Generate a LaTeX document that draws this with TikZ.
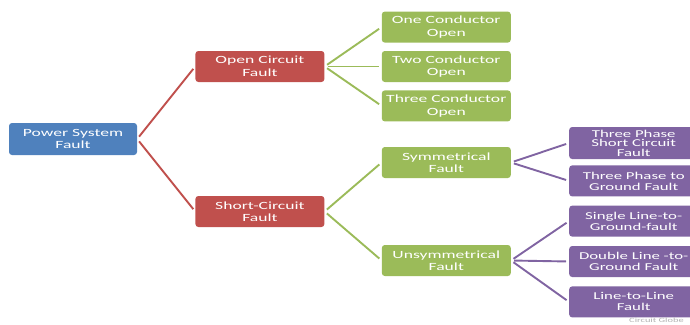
\documentclass[tikz,border=0pt]{standalone}
\usepackage{fontspec}
\setmainfont{Carlito}[FakeStretch=1.6]
\usetikzlibrary{positioning}
\definecolor{faultblue}{RGB}{79,129,189}
\definecolor{faultred}{RGB}{192,80,77}
\definecolor{faultgreen}{RGB}{155,187,89}
\definecolor{faultpurple}{RGB}{128,100,162}
\tikzset{
    %Define style for boxes
    boks/.style={
           rectangle,
           rounded corners=3pt,
           text=white,
           minimum width=129pt,
           minimum height=31pt,
           inner sep=0pt,
           align=center,
           font=\fontsize{11}{12.5}\selectfont},
    smaaboks/.style={
           boks,
           fill=faultpurple,
           font=\fontsize{10.5}{11}\selectfont},
    % Define line style
    lenke/.style={
           line width=1.9pt,
           shorten <=3pt,
           shorten >=3pt}
}
\begin{document}
\begin{tikzpicture}[x=1pt,y=-1pt]
\useasboundingbox (0,0) rectangle (690,324);
 %nodes
\node[boks, fill=faultblue, minimum width=128pt, minimum height=32pt] (psf) at (73,139) {Power System\\Fault};
\node[boks, fill=faultred, right=58pt of psf, yshift=72.5pt] (ocf) {Open Circuit\\Fault};
\node[boks, fill=faultred, right=58pt of psf, yshift=-72.5pt] (scf) {Short-Circuit\\Fault};
\node[boks, fill=faultgreen, right=57pt of ocf] (two) {Two Conductor\\Open};
\node[boks, fill=faultgreen, above=8pt of two] (one) {One Conductor\\Open};
\node[boks, fill=faultgreen, below=8pt of two] (three) {Three Conductor\\Open};
\node[boks, fill=faultgreen, right=57pt of scf, yshift=49pt] (sym) {Symmetrical\\Fault};
\node[boks, fill=faultgreen, right=57pt of scf, yshift=-49pt] (unsym) {Unsymmetrical\\Fault};
\node[smaaboks, minimum height=32pt, font=\fontsize{10.5}{9.5}\selectfont, right=58pt of sym, yshift=19.5pt] (tpsc) {Three Phase\\Short Circuit\\Fault};
\node[smaaboks, below=6pt of tpsc] (tpg) {Three Phase to\\Ground Fault};
\node[smaaboks, right=58pt of unsym, yshift=-1pt] (dlg) {Double Line -to-\\Ground Fault};
\node[smaaboks, above=9pt of dlg] (slg) {Single Line-to-\\Ground-fault};
\node[smaaboks, below=9pt of dlg] (ll) {Line-to-Line\\Fault};
\node[anchor=north west, inner sep=0pt, text=black!30, font=\fontsize{6.5}{7}\selectfont] (mark) at (629,317.5) {Circuit Globe};
 %links
\path[lenke, faultred]
	(psf.east) edge (ocf.west)
		edge (scf.west);
\path[lenke, faultgreen]
	(ocf.east) edge (one.west)
		edge (two.west)
		edge (three.west)
	(scf.east) edge (sym.west)
		edge (unsym.west);
\path[lenke, faultpurple]
	(sym.east) edge (tpsc.west)
		edge (tpg.west)
	(unsym.east) edge (slg.west)
		edge (dlg.west)
		edge (ll.west);
\end{tikzpicture}
\end{document}
